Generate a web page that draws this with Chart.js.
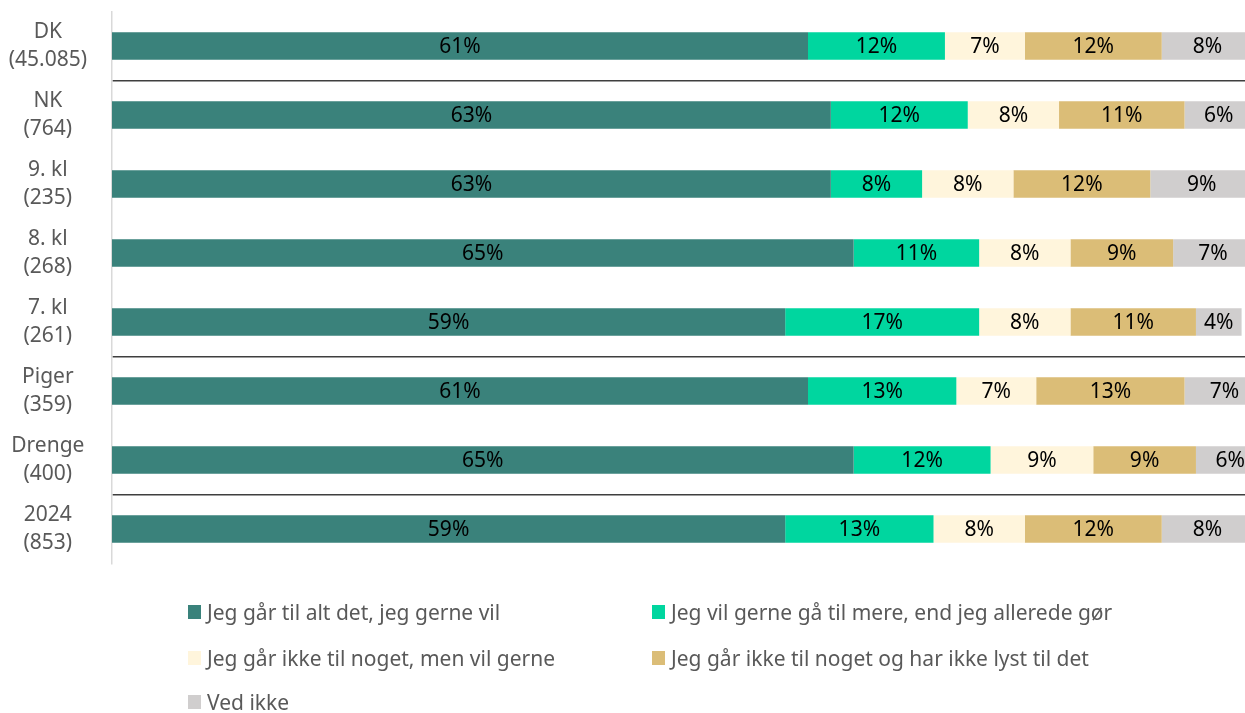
<!DOCTYPE html>
<html lang="da">
<head>
<meta charset="utf-8">
<title>Fritidsaktiviteter</title>
<script src="https://cdn.jsdelivr.net/npm/chart.js@4/dist/chart.umd.min.js"></script>
<style>
  html, body { margin: 0; padding: 0; background: #fff; overflow: hidden; }
  #wrap { position: relative; width: 1253px; height: 713px; }
  #legend {
    position: absolute; left: 0; top: 0; width: 1245px; height: 713px;
    pointer-events: none;
    font-family: "Noto Sans", sans-serif; font-size: 21px; color: #595959;
  }
  .item { position: absolute; display: flex; align-items: center; white-space: nowrap; transform: translateY(-50%); }
  .item span.box { width: 13px; height: 14px; margin-right: 6px; }
</style>
</head>
<body>
<div id="wrap">
  <canvas id="svarChart" width="1253" height="713"></canvas>
  <div id="legend"></div>
</div>
<script>
// Grupper og antal besvarelser
const groups = ['DK', 'NK', '9. kl', '8. kl', '7. kl', 'Piger', 'Drenge', '2024'];
const counts = ['45.085', '764', '235', '268', '261', '359', '400', '853'];

// Svarkategorier
const answers = [
    'Jeg går til alt det, jeg gerne vil',
    'Jeg vil gerne gå til mere, end jeg allerede gør',
    'Jeg går ikke til noget, men vil gerne',
    'Jeg går ikke til noget og har ikke lyst til det',
    'Ved ikke'
];
const colors = ['#3a827b', '#00d69f', '#fff5dc', '#dbbd77', '#d0cece'];

// Andele i procent, én række pr. svarkategori
const altDetJegVil   = [61, 63, 63, 65, 59, 61, 65, 59];
const vilGerneMere   = [12, 12, 8, 11, 17, 13, 12, 13];
const ikkeMenVil     = [7, 8, 8, 8, 8, 7, 9, 8];
const ikkeIkkeLyst   = [12, 11, 12, 9, 11, 13, 9, 12];
const vedIkke        = [8, 6, 9, 7, 4, 7, 6, 8];

const series = [altDetJegVil, vilGerneMere, ikkeMenVil, ikkeIkkeLyst, vedIkke];

// Skillelinjer mellem grupperne (indeks for grænsen over en kategori)
const separators = [1, 5, 7];

// Procenttal midt i hvert segment
const barLabels = {
    id: 'barLabels',
    afterDatasetsDraw(chart) {
        const ctx = chart.ctx;
        ctx.save();
        ctx.font = '21px "Noto Sans", sans-serif';
        ctx.fillStyle = '#000';
        ctx.textAlign = 'center';
        ctx.textBaseline = 'middle';
        chart.data.datasets.forEach((ds, i) => {
            const meta = chart.getDatasetMeta(i);
            meta.data.forEach((bar, j) => {
                const p = bar.getCenterPoint();
                ctx.fillText(ds.data[j] + '%', p.x, p.y + 1);
            });
        });
        ctx.restore();
    }
};

const ctx = document.getElementById('svarChart').getContext('2d');
const svarChart = new Chart(ctx, {
    type: 'bar',
    data: {
        labels: groups.map((g, i) => [g, '(' + counts[i] + ')']),
        datasets: series.map((data, i) => ({
            label: answers[i],
            data: data,
            backgroundColor: colors[i],
            borderWidth: 0,
            barPercentage: 0.8,
            categoryPercentage: 0.5
        }))
    },
    options: {
        indexAxis: 'y',
        responsive: false,
        animation: false,
        layout: { padding: { left: 8, top: 11.5, bottom: 149.5, right: 0 } },
        plugins: {
            legend: { display: false },
            tooltip: { enabled: false }
        },
        scales: {
            x: {
                stacked: true,
                min: 0,
                max: 100,
                display: false
            },
            y: {
                stacked: true,
                border: { color: '#d9d9d9', width: 1.5 },
                grid: {
                    offset: true,
                    drawTicks: false,
                    lineWidth: 1.5,
                    color: c => separators.includes(c.index) ? '#3f3f3f' : 'rgba(0,0,0,0)'
                },
                ticks: {
                    padding: 25,
                    crossAlign: 'center',
                    color: '#595959',
                    font: { family: '"Noto Sans", sans-serif', size: 21, lineHeight: 1.33 }
                },
                // fast bredde til etiketterne og ingen ekstra luft over/under
                afterFit(scale) {
                    scale.width = 104;
                    scale.paddingTop = 0;
                    scale.paddingBottom = 0;
                }
            }
        }
    },
    plugins: [barLabels]
});

// Forklaring i to kolonner under diagrammet
const legendEl = document.getElementById('legend');
const cols = [188, 652];
const rows = [612, 658, 702];
svarChart.data.datasets.forEach((ds, i) => {
    const item = document.createElement('div');
    item.className = 'item';
    item.style.left = cols[i % 2] + 'px';
    item.style.top = rows[Math.floor(i / 2)] + 'px';
    const box = document.createElement('span');
    box.className = 'box';
    box.style.background = ds.backgroundColor;
    const txt = document.createElement('span');
    txt.textContent = ds.label;
    item.appendChild(box);
    item.appendChild(txt);
    legendEl.appendChild(item);
});
</script>
</body>
</html>
